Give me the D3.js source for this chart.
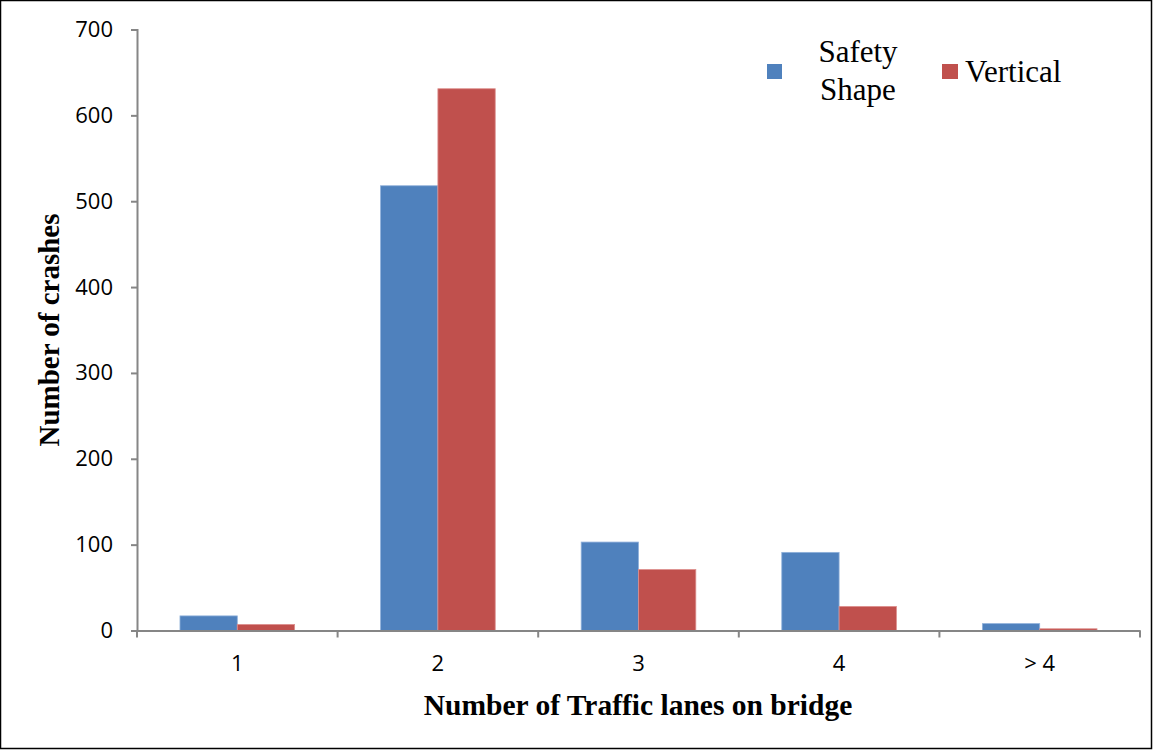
<!DOCTYPE html>
<html><head><meta charset="utf-8">
<script src="https://cdn.jsdelivr.net/npm/d3@7"></script>
<style>body{margin:0;background:#fff}svg{display:block}</style>
</head><body>
<script>
const categories = ["1", "2", "3", "4", "> 4"];
const safetyShape = [17, 518, 103, 91, 8];
const vertical = [7, 631, 71, 28, 2];
const seriesNames = ["Safety Shape", "Vertical"];
const yTicks = [0, 100, 200, 300, 400, 500, 600, 700];

const W = 1153, H = 751;
const svg = d3.select("body").append("svg").attr("width", W).attr("height", H);
svg.append("rect").attr("x", 0.5).attr("y", 0.5).attr("width", W - 2).attr("height", H - 3)
  .attr("fill", "#fff").attr("stroke", "#000").attr("stroke-width", 1.5);

const m = {left: 137, right: 1140, top: 29.5, bottom: 630.5};
const x = d3.scaleBand().domain(categories).range([m.left, m.right]).paddingInner(0).paddingOuter(0);
const y = d3.scaleLinear().domain([0, 700]).range([m.bottom, m.top]);
const colors = ["#4F81BD", "#C0504D"];
const strokes = ["#8FB0DA", "#DC8E8C"];
const sub = d3.scaleBand().domain([0, 1]).range([0, x.bandwidth()]).paddingInner(0).paddingOuter(0.75);

const data = categories.map((c, i) => ({c, v: [safetyShape[i], vertical[i]]}));
const g = svg.append("g");
data.forEach(d => {
  d.v.forEach((v, s) => {
    g.append("rect")
      .attr("x", x(d.c) + sub(s))
      .attr("y", y(v))
      .attr("width", sub.bandwidth())
      .attr("height", y(0) - y(v))
      .attr("fill", colors[s])
      .attr("stroke", strokes[s]).attr("stroke-width", 0.8);
  });
});

const axisColor = "#868686";
const tf = "'Open Sans', Lato, sans-serif";
// y axis
const yAxis = svg.append("g").attr("transform", `translate(${m.left},0)`)
  .call(d3.axisLeft(y).tickValues(yTicks).tickSize(6).tickPadding(18));
yAxis.select(".domain").attr("stroke", axisColor).attr("stroke-width", 2);
yAxis.selectAll(".tick line").attr("stroke", axisColor).attr("stroke-width", 2);
yAxis.selectAll(".tick text").attr("font-family", tf).attr("font-size", 22).attr("fill", "#000");

// x axis
const xAxis = svg.append("g").attr("transform", `translate(0,${m.bottom})`)
  .call(d3.axisBottom(x).tickSize(0).tickPadding(25));
xAxis.select(".domain").attr("stroke", axisColor).attr("stroke-width", 2);
xAxis.selectAll(".tick text").attr("font-family", tf).attr("font-size", 22).attr("fill", "#000");
const bounds = categories.map(c => x(c)).concat([m.right]);
svg.append("g").selectAll("line").data(bounds).join("line")
  .attr("x1", d => d).attr("x2", d => d).attr("y1", m.bottom).attr("y2", m.bottom + 7)
  .attr("stroke", axisColor).attr("stroke-width", 2);

// axis titles
const sf = "'Liberation Serif', 'Times New Roman', serif";
svg.append("text").attr("x", 638).attr("y", 715).attr("text-anchor", "middle")
  .attr("font-family", sf).attr("font-weight", "bold")
  .attr("font-size", 29.5).text("Number of Traffic lanes on bridge");
svg.append("text").attr("transform", "translate(59,330) rotate(-90)").attr("text-anchor", "middle")
  .attr("font-family", sf).attr("font-weight", "bold")
  .attr("font-size", 29).text("Number of crashes");

// legend
svg.append("rect").attr("x", 767).attr("y", 64).attr("width", 15).attr("height", 15).attr("fill", colors[0]);
svg.append("text").attr("x", 858).attr("y", 62).attr("text-anchor", "middle").attr("font-family", sf)
  .attr("font-size", 31).text("Safety");
svg.append("text").attr("x", 858).attr("y", 100).attr("text-anchor", "middle").attr("font-family", sf)
  .attr("font-size", 31).text("Shape");
svg.append("rect").attr("x", 942).attr("y", 64).attr("width", 16).attr("height", 15).attr("fill", colors[1]);
svg.append("text").attr("x", 965).attr("y", 82).attr("font-family", sf)
  .attr("font-size", 31).text("Vertical");
</script>
</body></html>
